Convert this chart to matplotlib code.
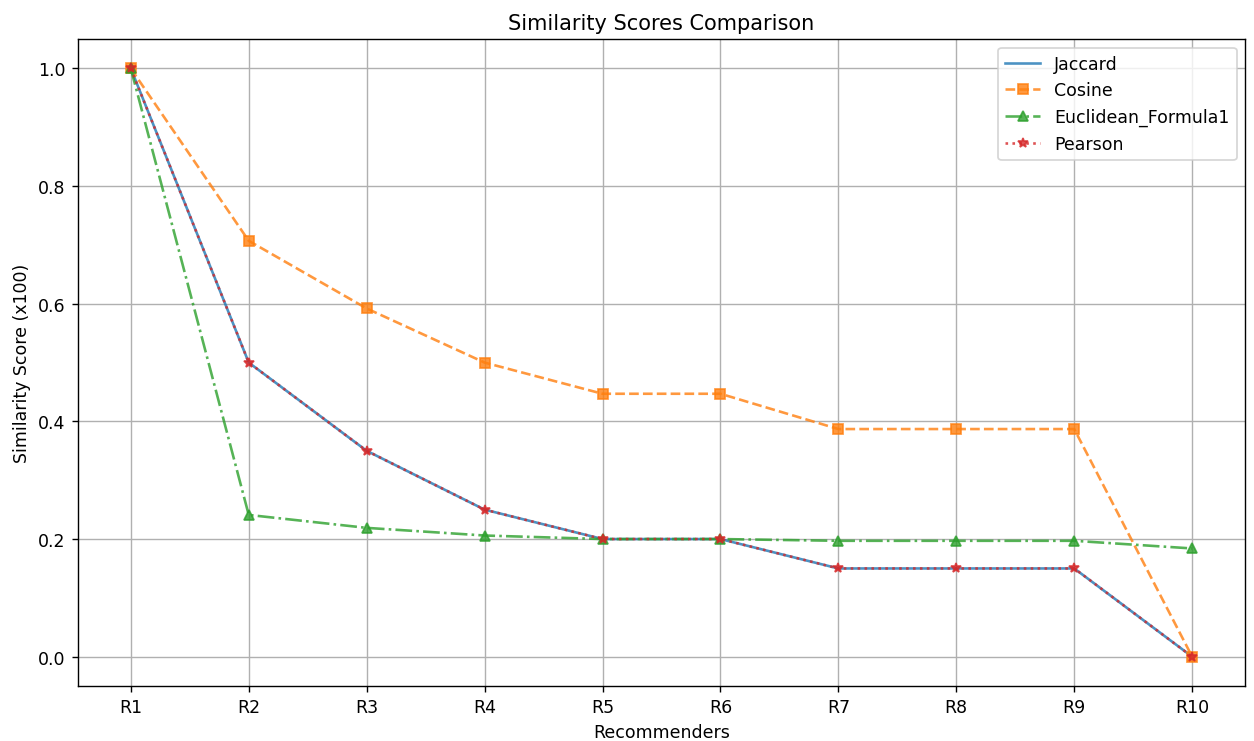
import numpy as np
import matplotlib
matplotlib.use("Agg")
import matplotlib.pyplot as plt

recommenders = ["R1", "R2", "R3", "R4", "R5", "R6", "R7", "R8", "R9", "R10"]
jaccard = [1.0, 0.5, 0.35, 0.25, 0.2, 0.2, 0.15, 0.15, 0.15, 0.0]
cosine = [1.0, 0.707, 0.592, 0.5, 0.447, 0.447, 0.387, 0.387, 0.387, 0.0]
euclidean = [1.0, 0.241, 0.219, 0.206, 0.2, 0.2, 0.197, 0.197, 0.197, 0.184]
pearson = [1.0, 0.5, 0.35, 0.25, 0.2, 0.2, 0.15, 0.15, 0.15, 0.0]

# original looks like a ~10x6 figure scaled up, so render at a higher dpi
fig, ax = plt.subplots(figsize=(10, 5.917), dpi=125.4)
fig.subplots_adjust(left=0.062, right=0.993, top=0.946, bottom=0.074)

ax.plot(recommenders, jaccard, label="Jaccard", linestyle="-", alpha=0.8)
ax.plot(recommenders, cosine, label="Cosine", linestyle="--", marker="s", alpha=0.8)
ax.plot(recommenders, euclidean, label="Euclidean_Formula1", linestyle="-.", marker="^", alpha=0.8)
ax.plot(recommenders, pearson, label="Pearson", linestyle=":", marker="*", alpha=0.8)

ax.set_title("Similarity Scores Comparison")
ax.set_xlabel("Recommenders")
ax.set_ylabel("Similarity Score (x100)")
ax.grid(True)
ax.legend()

plt.savefig("out.png")
